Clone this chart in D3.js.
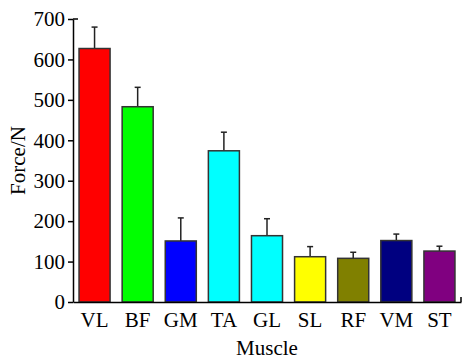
<!DOCTYPE html>
<html>
<head>
<meta charset="utf-8" />
<title>Muscle force</title>
<style>
  body { margin: 0; background: #fff; }
  text { font-family: "Liberation Serif", "Times New Roman", serif; fill: #000; }
</style>
</head>
<body>
<script src="https://cdnjs.cloudflare.com/ajax/libs/d3/7.8.5/d3.min.js"></script>
<script>
var muscles = ['VL', 'BF', 'GM', 'TA', 'GL', 'SL', 'RF', 'VM', 'ST'];
var force = [627, 483, 151, 374, 164, 112, 108, 152, 126];
var forceErr = [53, 48, 57, 46, 42, 25, 15, 16, 12];
var barColors = ['#ff0000', '#00ff00', '#0000ff', '#00ffff', '#00ffff', '#ffff00', '#808000', '#000080', '#800080'];
var yTicks = [0, 100, 200, 300, 400, 500, 600, 700];

var width = 470,
    height = 360,
    margin = {top: 19, right: 9, bottom: 58, left: 73};

var svg = d3.select('body').append('svg')
    .attr('width', width)
    .attr('height', height);

var g = svg.append('g')
    .attr('transform', 'translate(' + margin.left + ',' + margin.top + ')');

var w = width - margin.left - margin.right,
    h = height - margin.top - margin.bottom;

var x = d3.scaleBand()
    .domain(muscles)
    .range([0, w])
    .paddingInner(0.28)
    .paddingOuter(0.14);

var y = d3.scaleLinear()
    .domain([0, 700])
    .range([h, 0]);

// error bars (upper only)
var eb = g.selectAll('.err')
    .data(muscles)
  .enter().append('g')
    .attr('class', 'err')
    .attr('stroke', '#222')
    .attr('stroke-width', 1.5);

eb.append('line')
    .attr('x1', function(d) { return x(d) + x.bandwidth() / 2; })
    .attr('x2', function(d) { return x(d) + x.bandwidth() / 2; })
    .attr('y1', function(d, i) { return y(force[i]); })
    .attr('y2', function(d, i) { return y(force[i] + forceErr[i]); });

eb.append('line')
    .attr('x1', function(d) { return x(d) + x.bandwidth() / 2 - 3; })
    .attr('x2', function(d) { return x(d) + x.bandwidth() / 2 + 3; })
    .attr('y1', function(d, i) { return y(force[i] + forceErr[i]); })
    .attr('y2', function(d, i) { return y(force[i] + forceErr[i]); });

g.selectAll('.bar')
    .data(muscles)
  .enter().append('rect')
    .attr('class', 'bar')
    .attr('x', function(d) { return x(d); })
    .attr('y', function(d, i) { return y(force[i]); })
    .attr('width', x.bandwidth())
    .attr('height', function(d, i) { return h - y(force[i]); })
    .attr('fill', function(d, i) { return barColors[i]; })
    .attr('stroke', '#333')
    .attr('stroke-width', 1.5);

// y axis
var yAxis = g.append('g')
    .call(d3.axisLeft(y).tickValues(yTicks).tickSize(5).tickPadding(3).tickSizeOuter(0));
yAxis.select('.domain').attr('stroke-width', 1.5);
yAxis.selectAll('.tick line').attr('stroke-width', 1.5);
yAxis.selectAll('text').style('font-size', '21px');

// top tick extends a bit inside
g.append('line')
    .attr('x1', 0).attr('x2', 5)
    .attr('y1', y(700)).attr('y2', y(700))
    .attr('stroke', '#000').attr('stroke-width', 1.5);

// x axis
var xAxis = g.append('g')
    .attr('transform', 'translate(0,' + h + ')')
    .call(d3.axisBottom(x).tickSize(0).tickPadding(10).tickSizeOuter(0));
xAxis.select('.domain').attr('stroke-width', 1.5);
xAxis.selectAll('text').style('font-size', '21px');

g.append('line')
    .attr('x1', w).attr('x2', w)
    .attr('y1', h).attr('y2', h - 5)
    .attr('stroke', '#000').attr('stroke-width', 1.5);

g.append('text')
    .attr('x', w / 2)
    .attr('y', h + 53)
    .attr('text-anchor', 'middle')
    .style('font-size', '21px')
    .text('Muscle');

g.append('text')
    .attr('transform', 'translate(' + (-48) + ',' + (h / 2) + ') rotate(-90)')
    .attr('text-anchor', 'middle')
    .style('font-size', '21px')
    .text('Force/N');
</script>
</body>
</html>
